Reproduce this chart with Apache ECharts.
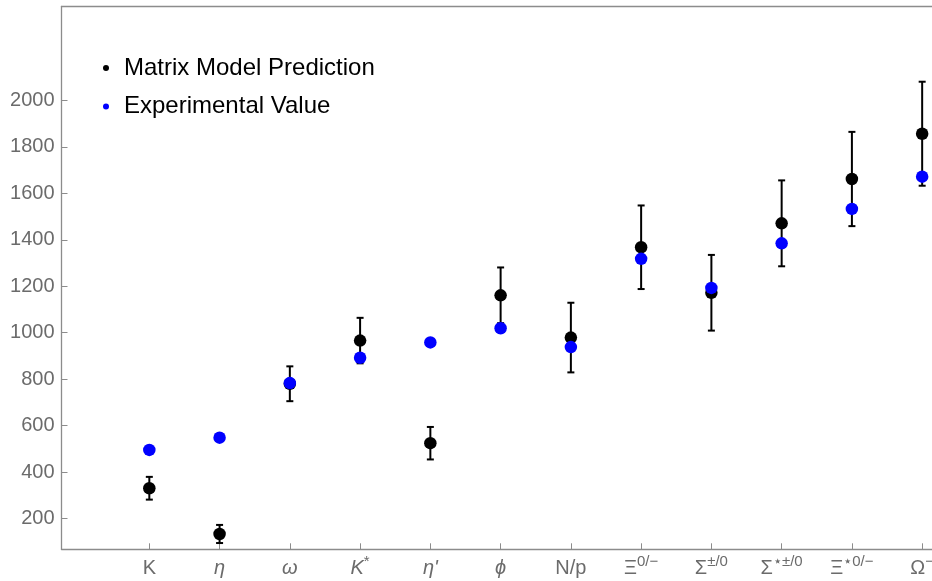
<!DOCTYPE html>
<html>
<head>
<meta charset="utf-8">
<script src="https://cdn.jsdelivr.net/npm/echarts@6/dist/echarts.min.js"></script>
<style>
  html, body { margin: 0; padding: 0; background: #fff; }
  #chart { width: 932px; height: 581px; }
</style>
</head>
<body>
<div id="chart"></div>
<script>
// ---- data ----
const categories = ['K', 'η', 'ω', 'K*', "η'", 'ϕ', 'N/p', 'Ξ0/−', 'Σ±/0', 'Σ⋆±/0', 'Ξ⋆0/−', 'Ω−'];
const modelValues = [330, 133, 780, 966, 524, 1161, 979, 1368, 1172, 1471, 1662, 1857];
const modelErrors = [49, 39, 75, 98, 70, 120, 150, 180, 163, 185, 203, 224];
const expValues = [495, 548, 783, 892, 958, 1019, 938, 1318, 1193, 1385, 1533, 1672];
const yTicks = [200, 400, 600, 800, 1000, 1200, 1400, 1600, 1800, 2000];
const seriesNames = ['Matrix Model Prediction', 'Experimental Value'];

// rich-text label markup for each category
const labelMarkup = [
  '{n|K}', '{i|η}', '{i|ω}', '{i|K}{s|*}', "{i|η'}", '{i|ϕ}', '{n|N/p}',
  '{n|Ξ}{s|0/−}', '{n|Σ}{s|±/0}', '{n|Σ}{s|⋆±/0}', '{n|Ξ}{s|⋆0/−}', '{n|Ω}{s|−}'
];

const xs = categories.map((c, i) => i + 1);
const modelData = modelValues.map((v, i) => [xs[i], v]);
const expData = expValues.map((v, i) => [xs[i], v]);
const errData = modelValues.map((v, i) => [xs[i], v - modelErrors[i], v + modelErrors[i]]);

const chart = echarts.init(document.getElementById('chart'), null, { renderer: 'canvas' });
const axisGray = '#8c8c8c';
const labelGray = '#6b6b6b';
const font = 'Liberation Sans, Arial, sans-serif';

chart.setOption({
  animation: false,
  backgroundColor: '#fff',
  textStyle: { fontFamily: font },
  grid: { left: 61.5, top: 6.5, right: 0, bottom: 31.7, containLabel: false, outerBoundsMode: 'none' },
  legend: {
    orient: 'vertical',
    left: 98,
    top: 51,
    itemWidth: 26,
    itemHeight: 6,
    itemGap: 14.5,
    icon: 'circle',
    data: seriesNames,
    textStyle: { fontSize: 24, color: '#000', fontFamily: font, lineHeight: 24 }
  },
  xAxis: [{
    type: 'value',
    min: -0.25,
    max: 12.14,
    splitLine: { show: false },
    axisLine: { show: true, onZero: false, lineStyle: { color: axisGray, width: 1.3 } },
    axisTick: { show: true, inside: true, length: 6, customValues: xs, lineStyle: { color: axisGray } },
    axisLabel: {
      show: true,
      customValues: xs,
      margin: 5,
      color: labelGray,
      fontSize: 20,
      fontFamily: font,
      formatter: function (v) {
        const i = Math.round(v) - 1;
        return labelMarkup[i] || '';
      },
      rich: {
        n: { fontSize: 20, color: labelGray, fontFamily: font, lineHeight: 24, verticalAlign: 'bottom' },
        i: { fontSize: 20, color: labelGray, fontFamily: font, fontStyle: 'italic', lineHeight: 24, verticalAlign: 'bottom' },
        s: { fontSize: 15, color: labelGray, fontFamily: font, lineHeight: 24, verticalAlign: 'top' }
      }
    }
  }, {
    type: 'value',
    position: 'top',
    min: -0.25,
    max: 12.14,
    splitLine: { show: false },
    axisLine: { show: true, onZero: false, lineStyle: { color: axisGray, width: 1.3 } },
    axisTick: { show: false },
    axisLabel: { show: false }
  }],
  yAxis: {
    type: 'value',
    min: 67,
    max: 2405,
    splitLine: { show: false },
    axisLine: { show: true, onZero: false, lineStyle: { color: axisGray, width: 1.3 } },
    axisTick: { show: true, inside: true, length: 6, customValues: yTicks, lineStyle: { color: axisGray } },
    axisLabel: {
      show: true,
      customValues: yTicks,
      margin: 7,
      color: labelGray,
      fontSize: 20,
      fontFamily: font,
      formatter: function (v) { return String(v); }
    }
  },
  series: [
    {
      name: 'errors',
      type: 'custom',
      xAxisIndex: 0,
      z: 1,
      data: errData,
      renderItem: function (params, api) {
        const x = api.value(0);
        const lo = api.coord([x, api.value(1)]);
        const hi = api.coord([x, api.value(2)]);
        const cap = 3.5;
        const style = { stroke: '#000', lineWidth: 2 };
        return {
          type: 'group',
          children: [
            { type: 'line', shape: { x1: lo[0], y1: lo[1], x2: hi[0], y2: hi[1] }, style: style },
            { type: 'line', shape: { x1: lo[0] - cap, y1: lo[1], x2: lo[0] + cap, y2: lo[1] }, style: style },
            { type: 'line', shape: { x1: hi[0] - cap, y1: hi[1], x2: hi[0] + cap, y2: hi[1] }, style: style }
          ]
        };
      }
    },
    {
      name: seriesNames[0],
      type: 'scatter',
      xAxisIndex: 0,
      z: 2,
      symbol: 'circle',
      symbolSize: 12.5,
      itemStyle: { color: '#000', opacity: 1 },
      data: modelData
    },
    {
      name: seriesNames[1],
      type: 'scatter',
      xAxisIndex: 0,
      z: 3,
      symbol: 'circle',
      symbolSize: 12.5,
      itemStyle: { color: '#0000ff', opacity: 1 },
      data: expData
    }
  ]
});
</script>
</body>
</html>
